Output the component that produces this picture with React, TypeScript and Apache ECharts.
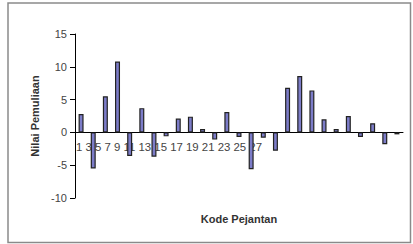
import React, { useEffect, useRef } from "react";
import * as echarts from "echarts";

const categories: string[] = Array.from({ length: 27 }, (_, i) => String(i + 1));
const values: number[] = [
  2.8, -5.5, 5.5, 10.8, -3.6, 3.7, -3.7, -0.6, 2.1, 2.4, 0.5, -1.1, 3.1, -0.7,
  -5.6, -0.8, -2.8, 6.8, 8.6, 6.4, 2.0, 0.5, 2.5, -0.7, 1.4, -1.8, -0.3,
];
const tickLabels: string[] = ["1", "3", "5", "7", "9", "11", "13", "15", "17", "19", "21", "23", "25", "27"];
const yTitle = "Nilai Pemuliaan";
const xTitle = "Kode Pejantan";

export default function App() {
  const ref = useRef<HTMLDivElement>(null);
  useEffect(() => {
    if (!ref.current) return;
    const chart = echarts.init(ref.current, null, { renderer: "svg" });
    const font = "Liberation Sans, Arial, sans-serif";
    chart.setOption({
      animation: false,
      backgroundColor: "#ffffff",
      grid: { left: 75, right: 10, top: 34, bottom: 46, containLabel: false },
      xAxis: {
        type: "category",
        data: categories,
        axisLine: { onZero: true, lineStyle: { color: "#000", width: 1 } },
        axisTick: { show: false },
        axisLabel: { show: false },
        splitLine: { show: false },
      },
      yAxis: {
        type: "value",
        min: -10,
        max: 15,
        interval: 5,
        name: yTitle,
        nameLocation: "middle",
        nameGap: 32,
        nameTextStyle: { fontFamily: font, fontSize: 11, fontWeight: "bold", color: "#333" },
        axisLine: { show: true, lineStyle: { color: "#000", width: 1 } },
        axisTick: { show: true, inside: false, length: 5, lineStyle: { color: "#000" } },
        axisLabel: { fontFamily: font, fontSize: 11, color: "#444", margin: 8 },
        splitLine: { show: false },
      },
      series: [
        {
          type: "bar",
          data: values,
          barWidth: 5,
          z: 10,
          itemStyle: { color: "#7c7cc8", borderColor: "#222", borderWidth: 1.2 },
        },
      ],
      graphic: [
        {
          type: "rect",
          z: 0,
          shape: { x: 8, y: 3, width: 402.5, height: 239.5 },
          style: { fill: "none", stroke: "#8a8a8a", lineWidth: 1.5 },
          silent: true,
        },
        {
          type: "text",
          z: 0,
          x: 76,
          y: 147,
          style: {
            text: tickLabels.join(" "),
            fontFamily: font,
            fontSize: 11.4,
            fill: "#444",
            textVerticalAlign: "middle",
            verticalAlign: "middle",
          },
        },
        {
          type: "text",
          z: 0,
          x: 239,
          y: 219,
          style: {
            text: xTitle,
            fontFamily: font,
            fontSize: 11,
            fontWeight: "bold",
            fill: "#333",
            align: "center",
            verticalAlign: "middle",
            textAlign: "center",
            textVerticalAlign: "middle",
          },
        },
      ],
    });
    return () => chart.dispose();
  }, []);
  return (
    <div
      ref={ref}
      style={{ position: "fixed", left: 0, top: 0, width: 413, height: 244, background: "#fff" }}
    />
  );
}
